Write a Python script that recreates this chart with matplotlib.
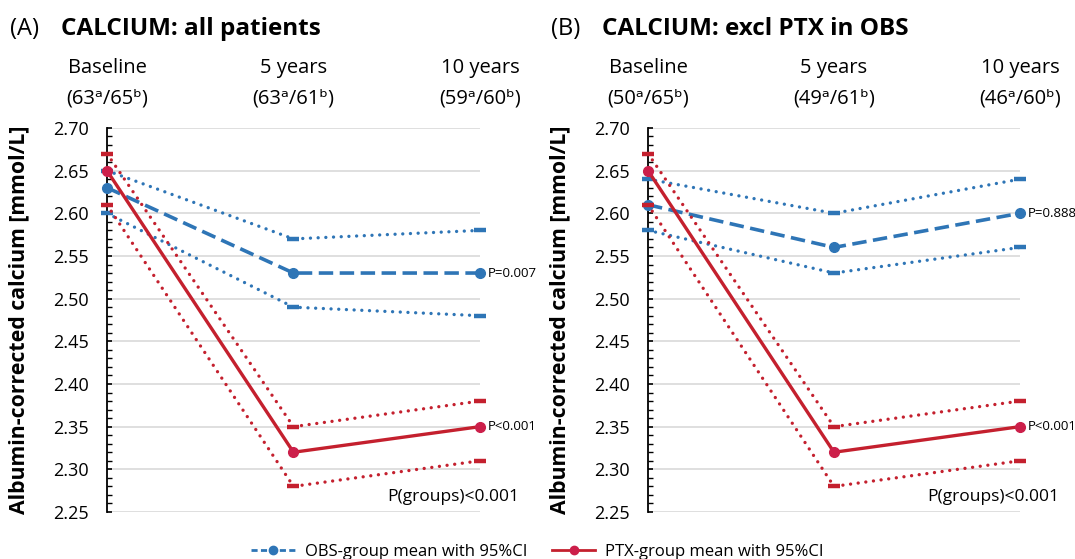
import matplotlib
matplotlib.use("Agg")
import matplotlib.pyplot as plt
from matplotlib.lines import Line2D
from matplotlib.ticker import MultipleLocator

plt.rcParams['font.family'] = ['Open Sans', 'DejaVu Sans']

# Time points
timepoints = ["Baseline", "5 years", "10 years"]

# Panel A: all patients
a_counts = [("63", "65"), ("63", "61"), ("59", "60")]
a_obs_mean = [2.63, 2.53, 2.53]
a_obs_hi = [2.65, 2.57, 2.58]
a_obs_lo = [2.60, 2.49, 2.48]
a_ptx_mean = [2.65, 2.32, 2.35]
a_ptx_hi = [2.67, 2.35, 2.38]
a_ptx_lo = [2.61, 2.28, 2.31]
a_p_obs = "P=0.007"
a_p_ptx = "P<0.001"

# Panel B: excluding PTX in the observation group
b_counts = [("50", "65"), ("49", "61"), ("46", "60")]
b_obs_mean = [2.61, 2.56, 2.60]
b_obs_hi = [2.64, 2.60, 2.64]
b_obs_lo = [2.58, 2.53, 2.56]
b_ptx_mean = [2.65, 2.32, 2.35]
b_ptx_hi = [2.67, 2.35, 2.38]
b_ptx_lo = [2.61, 2.28, 2.31]
b_p_obs = "P=0.888"
b_p_ptx = "P<0.001"

p_groups = "P(groups)<0.001"

BLUE = "#2E75B6"
RED = "#C4202E"
RED_DOT = "#CC1F4A"

x = list(range(len(timepoints)))


def draw_panel(ax, letter, title, counts, om, oh, ol, pm, ph, pl, p_obs, p_ptx):
    dotted = (0, (0.01, 2.3))
    # OBS group
    for ci in (oh, ol):
        ax.plot(x, ci, color=BLUE, lw=2.4, linestyle=dotted, dash_capstyle='round',
                marker='_', ms=8, mew=3.2, clip_on=False, zorder=3)
    ax.plot(x, om, color=BLUE, lw=2.6, dashes=(4, 1.8), marker='o', ms=7,
            clip_on=False, zorder=4)
    # PTX group
    for ci in (ph, pl):
        ax.plot(x, ci, color=RED, lw=2.4, linestyle=dotted, dash_capstyle='round',
                marker='_', ms=8, mew=3.2, clip_on=False, zorder=5)
    ax.plot(x, pm, color=RED, lw=2.4, marker='o', ms=7, mfc=RED_DOT, mec=RED_DOT,
            clip_on=False, zorder=6)

    ax.set_xlim(0, 2)
    ax.set_ylim(2.25, 2.70)
    ax.yaxis.set_major_locator(MultipleLocator(0.05))
    ax.yaxis.set_minor_locator(MultipleLocator(0.01))
    ax.set_yticklabels([f"{v:.2f}" for v in ax.get_yticks()])
    ax.tick_params(axis='y', which='major', direction='in', length=3.5, width=1.2,
                   labelsize=13, pad=13)
    ax.tick_params(axis='y', which='minor', direction='in', length=3.5, width=1.0)
    ax.set_xticks([])
    ax.grid(axis='y', color='#D9D9D9', lw=1.2)
    ax.set_axisbelow(True)
    for s in ('top', 'right', 'bottom'):
        ax.spines[s].set_visible(False)
    ax.spines['left'].set_linewidth(1.3)

    ax.set_ylabel("Albumin-corrected calcium [mmol/L]", fontsize=15.3, fontweight='bold',
                  labelpad=17)

    # column headers
    for xi, name, (na, nb) in zip(x, timepoints, counts):
        ax.text(xi, 1.155, name, transform=ax.get_xaxis_transform(), ha='center',
                va='center', fontsize=14.5)
        ax.text(xi, 1.078, f"({na}\u1d43/{nb}\u1d47)",
                transform=ax.get_xaxis_transform(), ha='center', va='center',
                fontsize=14.5)

    # title
    ax.text(-0.52, 1.258, f"({letter})", transform=ax.get_xaxis_transform(), ha='left',
            va='center', fontsize=17)
    ax.text(-0.245, 1.258, title, transform=ax.get_xaxis_transform(), ha='left',
            va='center', fontsize=17.5, fontweight='bold')

    # p-values
    ax.text(2.04, om[-1], p_obs, ha='left', va='center', fontsize=9.5)
    ax.text(2.04, pm[-1], p_ptx, ha='left', va='center', fontsize=9.5)
    ax.text(2.21, 2.268, p_groups, ha='right', va='center', fontsize=12.5)


fig = plt.figure(figsize=(10.75, 5.59), dpi=100)
ax1 = fig.add_axes([0.0995, 0.0841, 0.347, 0.687])
ax2 = fig.add_axes([0.6028, 0.0841, 0.346, 0.687])

draw_panel(ax1, "A", "CALCIUM: all patients", a_counts, a_obs_mean, a_obs_hi, a_obs_lo,
           a_ptx_mean, a_ptx_hi, a_ptx_lo, a_p_obs, a_p_ptx)
draw_panel(ax2, "B", "CALCIUM: excl PTX in OBS", b_counts, b_obs_mean, b_obs_hi, b_obs_lo,
           b_ptx_mean, b_ptx_hi, b_ptx_lo, b_p_obs, b_p_ptx)

handles = [
    Line2D([], [], color=BLUE, lw=2.0, dashes=(2.2, 1.2), marker='o', ms=6),
    Line2D([], [], color=RED, lw=2.0, marker='o', ms=6, mfc=RED_DOT, mec=RED_DOT),
]
labels = ["OBS-group mean with 95%CI", "PTX-group mean with 95%CI"]
fig.legend(handles, labels, loc='center', bbox_to_anchor=(0.5, 0.012), ncol=2,
           frameon=False, fontsize=12, handlelength=2.6, columnspacing=1.5,
           handletextpad=0.6)

fig.savefig("out.png", dpi=100)
